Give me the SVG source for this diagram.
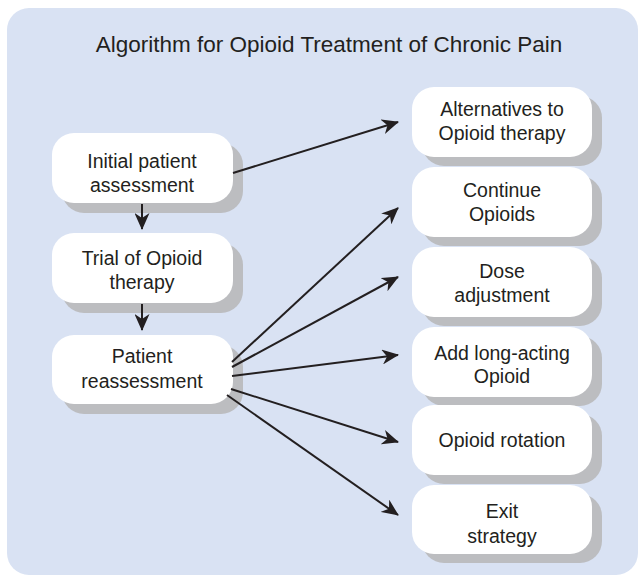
<svg xmlns="http://www.w3.org/2000/svg" width="640" height="577" viewBox="0 0 640 577">
  <style>
    .panel { fill: #d9e2f3; }
    .shadow { fill: #bcbdc0; }
    .box { fill: #ffffff; }
    .title { font-family: "Liberation Sans", Arial, sans-serif; font-size: 22.5px; fill: #231f20; text-anchor: middle; }
    .lbl { font-family: "Liberation Sans", Arial, sans-serif; font-size: 19.5px; fill: #231f20; text-anchor: middle; }
    .conn { stroke: #231f20; stroke-width: 2; fill: none; marker-end: url(#arr); }
  </style>
  <defs>
    <marker id="arr" viewBox="0 0 17 15" refX="16" refY="7.5" markerWidth="17" markerHeight="15" markerUnits="userSpaceOnUse" orient="auto">
      <path d="M0,0 L17,7.5 L0,15 L5,7.5 Z" fill="#231f20"/>
    </marker>
  </defs>

  <rect class="panel" x="7" y="8" width="631" height="567" rx="22" ry="22"/>
  <text class="title" x="329" y="52">Algorithm for Opioid Treatment of Chronic Pain</text>

  <g id="initial">
    <rect class="shadow" x="62" y="143" width="181" height="70" rx="22"/>
    <rect class="box" x="52" y="133" width="181" height="70" rx="22"/>
    <text class="lbl" x="142" y="168">Initial patient</text>
    <text class="lbl" x="142" y="192">assessment</text>
  </g>
  <g id="trial">
    <rect class="shadow" x="62" y="243" width="181" height="70" rx="22"/>
    <rect class="box" x="52" y="233" width="181" height="70" rx="22"/>
    <text class="lbl" x="142" y="265">Trial of Opioid</text>
    <text class="lbl" x="142" y="289">therapy</text>
  </g>
  <g id="reassess">
    <rect class="shadow" x="62" y="345" width="181" height="69" rx="22"/>
    <rect class="box" x="52" y="335" width="181" height="69" rx="22"/>
    <text class="lbl" x="142" y="363">Patient</text>
    <text class="lbl" x="142" y="388">reassessment</text>
  </g>

  <g id="alternatives">
    <rect class="shadow" x="422" y="96" width="180" height="70" rx="22"/>
    <rect class="box" x="412" y="87" width="180" height="70" rx="22"/>
    <text class="lbl" x="502" y="116">Alternatives to</text>
    <text class="lbl" x="502" y="140">Opioid therapy</text>
  </g>
  <g id="continue">
    <rect class="shadow" x="422" y="176" width="180" height="70" rx="22"/>
    <rect class="box" x="412" y="167" width="180" height="70" rx="22"/>
    <text class="lbl" x="502" y="197">Continue</text>
    <text class="lbl" x="502" y="221">Opioids</text>
  </g>
  <g id="dose">
    <rect class="shadow" x="422" y="256" width="180" height="70" rx="22"/>
    <rect class="box" x="412" y="247" width="180" height="70" rx="22"/>
    <text class="lbl" x="502" y="278">Dose</text>
    <text class="lbl" x="502" y="302">adjustment</text>
  </g>
  <g id="longacting">
    <rect class="shadow" x="422" y="336" width="180" height="70" rx="22"/>
    <rect class="box" x="412" y="327" width="180" height="70" rx="22"/>
    <text class="lbl" x="502" y="360">Add long-acting</text>
    <text class="lbl" x="502" y="383">Opioid</text>
  </g>
  <g id="rotation">
    <rect class="shadow" x="422" y="414" width="180" height="70" rx="22"/>
    <rect class="box" x="412" y="405" width="180" height="70" rx="22"/>
    <text class="lbl" x="502" y="447">Opioid rotation</text>
  </g>
  <g id="exit">
    <rect class="shadow" x="422" y="494" width="180" height="69" rx="22"/>
    <rect class="box" x="412" y="485" width="180" height="69" rx="22"/>
    <text class="lbl" x="502" y="518">Exit</text>
    <text class="lbl" x="502" y="543">strategy</text>
  </g>

  <g id="connectors">
    <line class="conn" x1="142" y1="204" x2="142" y2="229"/>
    <line class="conn" x1="142" y1="304" x2="142" y2="330"/>
    <line class="conn" x1="233" y1="173" x2="398" y2="122"/>
    <line class="conn" x1="232" y1="362" x2="398" y2="208"/>
    <line class="conn" x1="232" y1="367" x2="398" y2="277"/>
    <line class="conn" x1="232" y1="376" x2="398" y2="355"/>
    <line class="conn" x1="231" y1="389" x2="398" y2="442"/>
    <line class="conn" x1="227" y1="395" x2="398" y2="515"/>
  </g>
</svg>
